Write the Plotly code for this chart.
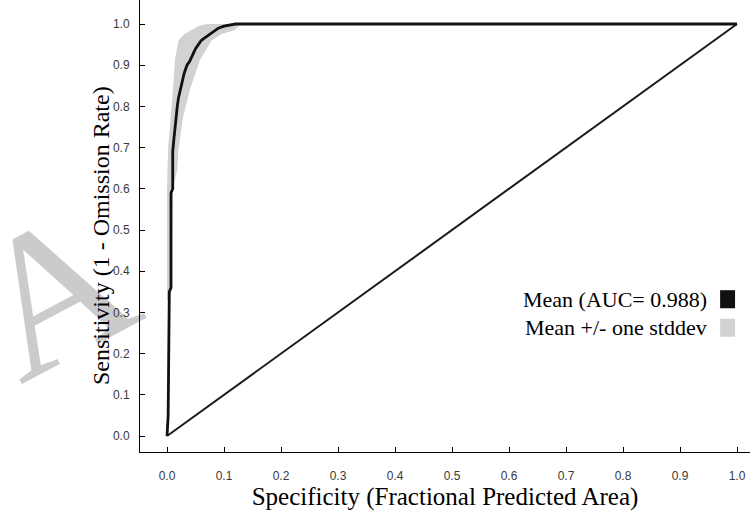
import plotly.graph_objects as go

# Mean ROC curve (specificity = fractional predicted area, sensitivity)
mean_x = [0.000, 0.002, 0.003, 0.004, 0.004, 0.007, 0.007, 0.010, 0.010, 0.012,
          0.015, 0.018, 0.020, 0.023, 0.027, 0.030, 0.035, 0.040, 0.045, 0.050,
          0.055, 0.060, 0.065, 0.070, 0.080, 0.090, 0.100, 0.110, 0.120, 1.000]
mean_y = [0.000, 0.050, 0.200, 0.330, 0.350, 0.360, 0.590, 0.600, 0.690, 0.720,
          0.770, 0.800, 0.820, 0.840, 0.860, 0.880, 0.900, 0.910, 0.925, 0.940,
          0.950, 0.960, 0.965, 0.970, 0.980, 0.990, 0.995, 0.998, 1.000, 1.000]

# Mean +/- one stddev band: upper (left) edge and lower (right) edge
upper_x = [0.000, 0.000, 0.002, 0.005, 0.009, 0.014, 0.020, 0.030, 0.042, 0.055, 0.070]
upper_y = [0.330, 0.600, 0.700, 0.743, 0.816, 0.913, 0.960, 0.975, 0.985, 0.995, 1.000]
lower_x = [0.130, 0.118, 0.095, 0.078, 0.058, 0.040, 0.028, 0.020, 0.018, 0.010, 0.008, 0.005]
lower_y = [1.000, 0.985, 0.975, 0.960, 0.913, 0.840, 0.774, 0.694, 0.645, 0.600, 0.400, 0.330]

# Random prediction line
random_x = [0.0, 1.0]
random_y = [0.0, 1.0]

tick_vals = [0.0, 0.1, 0.2, 0.3, 0.4, 0.5, 0.6, 0.7, 0.8, 0.9, 1.0]
tick_text = ["0.0", "0.1", "0.2", "0.3", "0.4", "0.5", "0.6", "0.7", "0.8", "0.9", "1.0"]

legend_labels = ["Mean (AUC= 0.988)", "Mean +/- one stddev"]
legend_colors = ["#111111", "#d2d2d2"]

SERIF = "Liberation Serif, Times New Roman, serif"
SANS = "Liberation Sans, Arial, sans-serif"

fig = go.Figure()
fig.add_trace(go.Scatter(
    x=upper_x + lower_x, y=upper_y + lower_y, fill="toself",
    fillcolor="#d2d2d2", line=dict(width=0), mode="lines",
    hoverinfo="skip", showlegend=False))
fig.add_trace(go.Scatter(
    x=random_x, y=random_y, mode="lines",
    line=dict(color="#1a1a1a", width=2), showlegend=False))
fig.add_trace(go.Scatter(
    x=mean_x, y=mean_y, mode="lines",
    line=dict(color="#111111", width=2.8), showlegend=False))

annotations = [
    # y-axis title
    dict(text="Sensitivity (1 - Omission Rate)", xref="paper", yref="paper",
         x=-0.064, y=0.48, xanchor="center", yanchor="middle", showarrow=False,
         textangle=-90, font=dict(family=SERIF, size=24, color="black")),
]
leg_y = [0.338, 0.275]
for lab, col, yy in zip(legend_labels, legend_colors, leg_y):
    annotations.append(dict(text=lab, xref="paper", yref="paper", x=0.932, y=yy,
                            xanchor="right", yanchor="middle", showarrow=False,
                            font=dict(family=SERIF, size=22, color="black")))

shapes = [
    # watermark letter, drawn underneath the axes
    dict(type="rect", xref="paper", yref="paper", layer="below",
         x0=-0.1615, x1=-0.1595, y0=0.397, y1=0.399,
         fillcolor="rgba(0,0,0,0)", line=dict(width=0),
         label=dict(text="A", textposition="middle center", textangle=-28,
                    font=dict(family=SERIF, size=200, color="#cbcbcb"))),
]
for col, yy in zip(legend_colors, leg_y):
    shapes.append(dict(type="rect", xref="paper", yref="paper",
                       x0=0.951, x1=0.9755, y0=yy - 0.02, y1=yy + 0.02,
                       fillcolor=col, line=dict(width=0)))

fig.update_layout(
    width=750, height=512,
    margin=dict(l=140, r=0, t=0, b=60),
    paper_bgcolor="white", plot_bgcolor="white",
    annotations=annotations, shapes=shapes,
    xaxis=dict(range=[-0.0474, 1.0228], tickvals=tick_vals, ticktext=tick_text,
               showgrid=False, zeroline=False, showline=True, linecolor="black",
               linewidth=1, ticks="inside", ticklen=5, tickcolor="black",
               ticklabelstandoff=13,
               tickfont=dict(family=SANS, size=12, color="#3a3a3a"),
               title=dict(text="Specificity (Fractional Predicted Area)",
                          font=dict(family=SERIF, size=25, color="black"), standoff=2)),
    yaxis=dict(range=[-0.0388, 1.0583], tickvals=tick_vals, ticktext=tick_text,
               showgrid=False, zeroline=False, showline=True, linecolor="black",
               linewidth=1, ticks="inside", ticklen=5, tickcolor="black",
               ticklabelstandoff=7,
               tickfont=dict(family=SANS, size=12, color="#3a3a3a")),
)

fig.write_html("out.html")
